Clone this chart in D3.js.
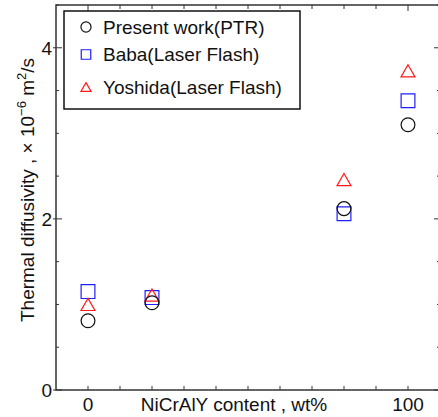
<!DOCTYPE html>
<html>
<head>
<meta charset="utf-8">
<script src="https://cdn.jsdelivr.net/npm/d3@7"></script>
<style>
  body { margin: 0; background: #fff; }
  text { font-family: "Liberation Sans", Arial, sans-serif; fill: #111; }
</style>
</head>
<body>
<div id="chart"></div>
<script>
// NiCrAlY content (wt%) and thermal diffusivity (x10^-6 m2/s)
var content = [0, 20, 80, 100];
var ptrValues = [0.81, 1.02, 2.12, 3.10];
var babaValues = [1.15, 1.08, 2.06, 3.38];
var yoshidaValues = [1.00, 1.11, 2.46, 3.73];

var seriesNames = ["Present work(PTR)", "Baba(Laser Flash)", "Yoshida(Laser Flash)"];
var xTickLabels = [0, 100];
var yTickLabels = [0, 2, 4];

var width = 438, height = 417;

var svg = d3.select("#chart").append("svg")
    .attr("width", width)
    .attr("height", height);

var x = d3.scaleLinear().domain([-10, 110]).range([56, 440]);
var y = d3.scaleLinear().domain([0, 4.5]).range([390, 5]);

var axisColor = "#333";

/** ticks **/
var xTicks = d3.range(0, 101, 10);
var yTicks = d3.range(0, 4.51, 0.5);

// bottom and top ticks (inside)
svg.selectAll(".xtickB").data(xTicks).enter().append("line")
    .attr("x1", d => x(d)).attr("x2", d => x(d))
    .attr("y1", y(0)).attr("y2", y(0) - 4)
    .attr("stroke", axisColor);
svg.selectAll(".xtickT").data(xTicks).enter().append("line")
    .attr("x1", d => x(d)).attr("x2", d => x(d))
    .attr("y1", y(4.5)).attr("y2", d => y(4.5) + (d % 100 === 0 ? 6 : 4))
    .attr("stroke", axisColor);

// left and right ticks
svg.selectAll(".ytickL").data(yTicks).enter().append("line")
    .attr("x1", d => x(-10) - (d % 2 === 0 ? 3 : 0))
    .attr("x2", d => x(-10) + (d % 2 === 0 ? 6 : 3))
    .attr("y1", d => y(d)).attr("y2", d => y(d))
    .attr("stroke", axisColor);
svg.selectAll(".ytickR").data(yTicks).enter().append("line")
    .attr("x1", x(110))
    .attr("x2", d => x(110) - (d % 2 === 0 ? 6 : 3))
    .attr("y1", d => y(d)).attr("y2", d => y(d))
    .attr("stroke", axisColor);

// frame
svg.append("rect")
    .attr("x", x(-10)).attr("y", y(4.5))
    .attr("width", x(110) - x(-10)).attr("height", y(0) - y(4.5))
    .attr("fill", "none")
    .attr("stroke", axisColor)
    .attr("stroke-width", 1.5);

// tick labels
svg.selectAll(".xlab").data(xTickLabels).enter().append("text")
    .attr("x", d => x(d)).attr("y", 411)
    .attr("text-anchor", "middle")
    .style("font-size", "19px")
    .text(d => d);
svg.selectAll(".ylab").data(yTickLabels).enter().append("text")
    .attr("x", 52).attr("y", d => y(d))
    .attr("dy", "0.36em")
    .attr("text-anchor", "end")
    .style("font-size", "19px")
    .text(d => d);

// axis titles
svg.append("text")
    .attr("x", 234).attr("y", 411)
    .attr("text-anchor", "middle")
    .style("font-size", "19px")
    .text("NiCrAlY content , wt%");

var yTitle = svg.append("text")
    .attr("transform", "translate(34,190) rotate(-90)")
    .attr("text-anchor", "middle")
    .style("font-size", "19px");
yTitle.append("tspan").text("Thermal diffusivity , \u00d7 10");
yTitle.append("tspan").attr("dy", -8).style("font-size", "13px").text("\u22126");
yTitle.append("tspan").attr("dy", 8).text(" m");
yTitle.append("tspan").attr("dy", -8).style("font-size", "13px").text("2");
yTitle.append("tspan").attr("dy", 8).text("/s");

/** markers **/
var circle = d3.symbol().type(d3.symbolCircle);
var square = d3.symbol().type(d3.symbolSquare);
var triangle = d3.symbol().type(d3.symbolTriangle);

function drawSeries(values, sym, size, color, shift) {
    svg.selectAll(null).data(values).enter().append("path")
        .attr("d", sym.size(size)())
        .attr("transform", (d, i) => "translate(" + x(content[i]) + "," + (y(d) + shift) + ")")
        .attr("fill", "none")
        .attr("stroke", color)
        .attr("stroke-width", 1.2);
}
drawSeries(babaValues, square, 190, "#1f1fff", 0);
drawSeries(yoshidaValues, triangle, 85, "#ff1a1a", 2);
drawSeries(ptrValues, circle, 150, "#111", 0);

/** legend **/
svg.append("rect")
    .attr("x", 64).attr("y", 11)
    .attr("width", 236).attr("height", 98)
    .attr("fill", "#fff")
    .attr("stroke", "#111")
    .attr("stroke-width", 1.5);

var legendY = [27, 54.5, 87];
var legendSym = [circle.size(80)(), square.size(90)(), triangle.size(45)()];
var legendColor = ["#111", "#1f1fff", "#ff1a1a"];
var legendShift = [0, 0, 1.5];

var items = svg.selectAll(".legendItem").data(seriesNames).enter().append("g")
    .attr("transform", (d, i) => "translate(86," + legendY[i] + ")");
items.append("path")
    .attr("d", (d, i) => legendSym[i])
    .attr("transform", (d, i) => "translate(0," + legendShift[i] + ")")
    .attr("fill", "none")
    .attr("stroke", (d, i) => legendColor[i])
    .attr("stroke-width", 1.2);
items.append("text")
    .attr("x", 17).attr("y", 6.5)
    .style("font-size", "19px")
    .text(d => d);
</script>
</body>
</html>
